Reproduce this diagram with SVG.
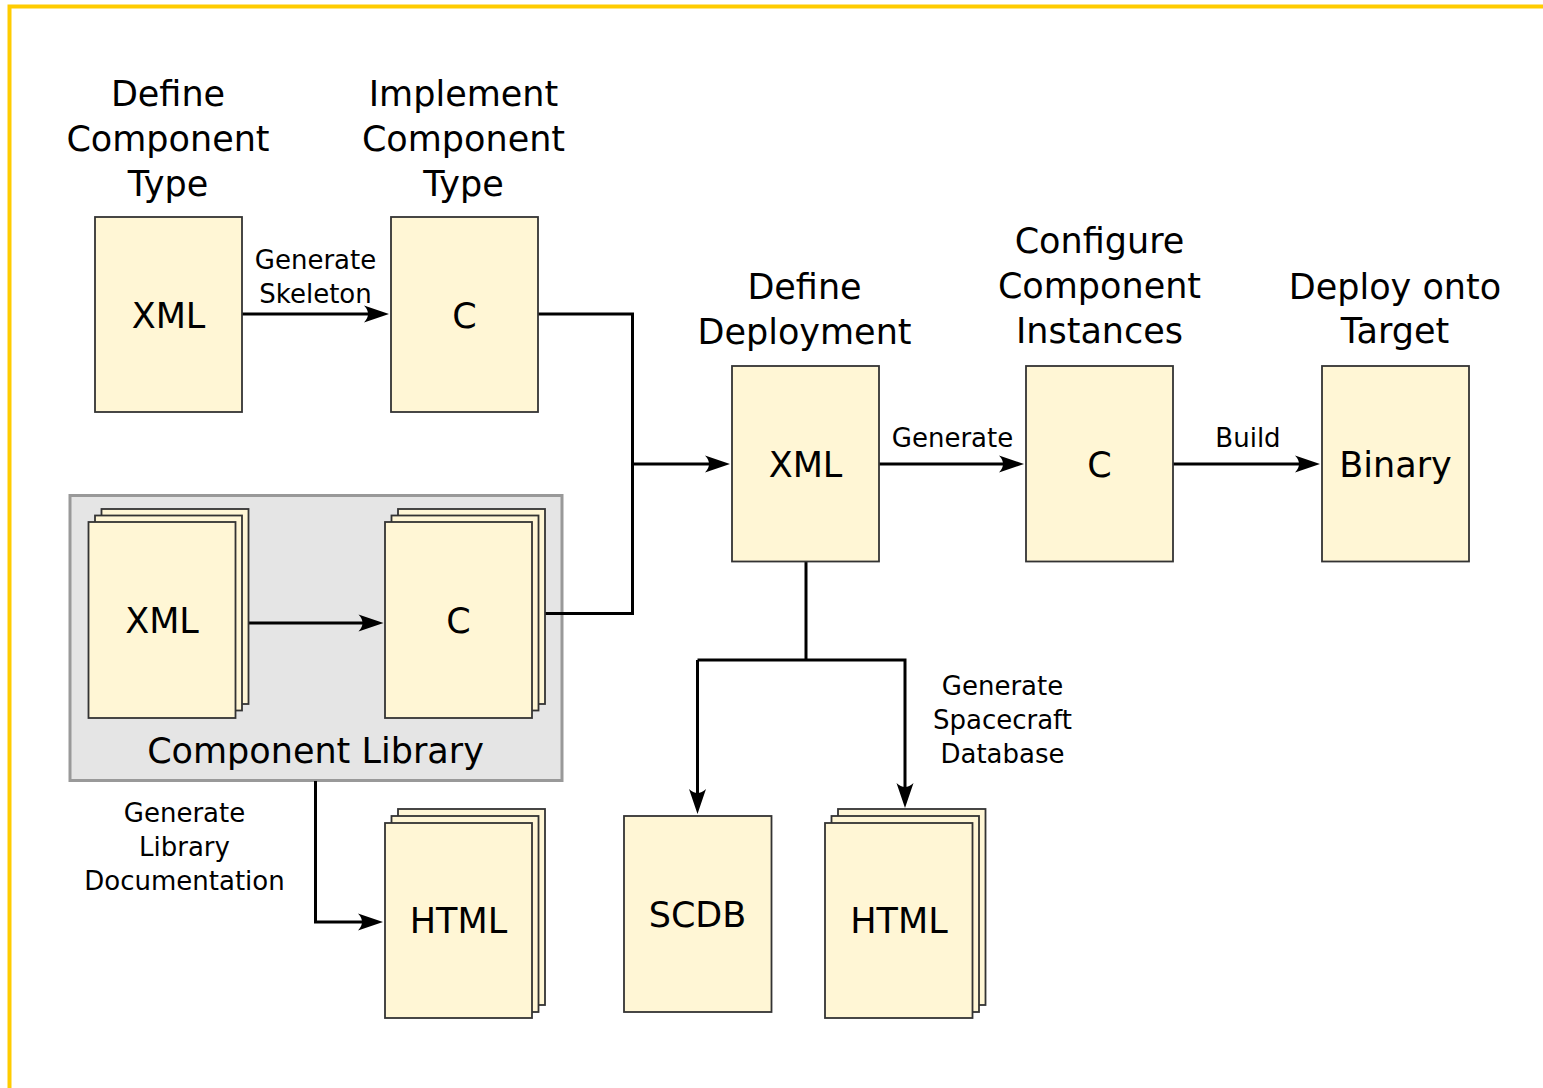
<svg xmlns="http://www.w3.org/2000/svg" width="1543" height="1088" viewBox="0 0 1543 1088">
<style>
text{font-family:"DejaVu Sans","Liberation Sans",sans-serif;fill:#000;text-anchor:middle}
.big{font-size:35px}
.small{font-size:26px}
.doc{fill:#fff6d5;stroke:#333;stroke-width:1.8}
.conn{fill:none;stroke:#000;stroke-width:3}
.arr{marker-end:url(#ah)}
</style>
<defs>
<marker id="ah" markerUnits="userSpaceOnUse" viewBox="-22 -10 30 20" refX="0" refY="0" markerWidth="30" markerHeight="20" orient="auto" overflow="visible">
<path d="M6,0 L-19,-8.5 Q-11,0 -19,8.5 Z" fill="#000"/>
</marker>
</defs>
<rect width="1543" height="1088" fill="#fff"/>
<rect id="frame" x="9.5" y="6.5" width="1600" height="1090" fill="none" stroke="#ffcc00" stroke-width="4"/>

<g id="library">
<rect x="70" y="495.5" width="492" height="285" fill="#e5e5e5" stroke="#999" stroke-width="3"/>
<text class="big" x="315.5" y="763">Component Library</text>
</g>

<g id="connectors">
<path class="conn arr" d="M242,314 H383"/>
<path class="conn" d="M538,314 H632.5 V613.5 H543"/>
<path class="conn arr" d="M632.5,464 H724"/>
<path class="conn arr" d="M248.5,623 H377.5"/>
<path class="conn arr" d="M879,464 H1018"/>
<path class="conn arr" d="M1173,464 H1314"/>
<path class="conn" d="M806,561.5 V660"/>
<path class="conn arr" d="M697.5,660 V808"/>
<path class="conn arr" d="M697.5,660 H905 V802"/>
<path class="conn arr" d="M315.5,781 V922 H377"/>
<text class="small" x="315.5" y="269">Generate</text>
<text class="small" x="315.5" y="303">Skeleton</text>
<text class="small" x="952.5" y="447">Generate</text>
<text class="small" x="1248" y="447">Build</text>
<text class="small" x="1002.5" y="695">Generate</text>
<text class="small" x="1002.5" y="729">Spacecraft</text>
<text class="small" x="1002.5" y="763">Database</text>
<text class="small" x="184.5" y="822">Generate</text>
<text class="small" x="184.5" y="856">Library</text>
<text class="small" x="184.5" y="890">Documentation</text>
</g>

<g id="define-type">
<text class="big" x="168" y="106">Define</text>
<text class="big" x="168" y="151">Component</text>
<text class="big" x="168" y="196">Type</text>
<rect class="doc" x="95" y="217" width="147" height="195"/>
<text class="big" x="168.5" y="327.5">XML</text>
</g>

<g id="implement-type">
<text class="big" x="463.5" y="106">Implement</text>
<text class="big" x="463.5" y="151">Component</text>
<text class="big" x="463.5" y="196">Type</text>
<rect class="doc" x="391" y="217" width="147" height="195"/>
<text class="big" x="464.5" y="327.5">C</text>
</g>

<g id="lib-xml">
<rect class="doc" x="101.5" y="509" width="147" height="195"/>
<rect class="doc" x="95" y="515.5" width="147" height="195"/>
<rect class="doc" x="88.5" y="522" width="147" height="196"/>
<text class="big" x="162" y="633">XML</text>
</g>

<g id="lib-c">
<rect class="doc" x="398" y="509" width="147" height="195"/>
<rect class="doc" x="391.5" y="515.5" width="147" height="195"/>
<rect class="doc" x="385" y="522" width="147" height="196"/>
<text class="big" x="458.5" y="633">C</text>
</g>

<g id="define-deployment">
<text class="big" x="804.5" y="299">Define</text>
<text class="big" x="804.5" y="344">Deployment</text>
<rect class="doc" x="732" y="366" width="147" height="195.5"/>
<text class="big" x="805.5" y="477">XML</text>
</g>

<g id="configure-instances">
<text class="big" x="1099.5" y="253">Configure</text>
<text class="big" x="1099.5" y="298">Component</text>
<text class="big" x="1099.5" y="343">Instances</text>
<rect class="doc" x="1026" y="366" width="147" height="195.5"/>
<text class="big" x="1099.5" y="477">C</text>
</g>

<g id="deploy-target">
<text class="big" x="1395" y="299">Deploy onto</text>
<text class="big" x="1395" y="343">Target</text>
<rect class="doc" x="1322" y="366" width="147" height="195.5"/>
<text class="big" x="1395.5" y="477">Binary</text>
</g>

<g id="scdb">
<rect class="doc" x="624" y="816" width="147.5" height="196"/>
<text class="big" x="697.5" y="927">SCDB</text>
</g>

<g id="html-sc">
<rect class="doc" x="838" y="809" width="147.5" height="196"/>
<rect class="doc" x="831.5" y="816" width="147.5" height="196"/>
<rect class="doc" x="825" y="823" width="147.5" height="195"/>
<text class="big" x="899" y="933">HTML</text>
</g>

<g id="html-lib">
<rect class="doc" x="398" y="809" width="147" height="196"/>
<rect class="doc" x="391.5" y="816" width="147" height="196"/>
<rect class="doc" x="385" y="823" width="147" height="195"/>
<text class="big" x="458.5" y="933">HTML</text>
</g>
</svg>
